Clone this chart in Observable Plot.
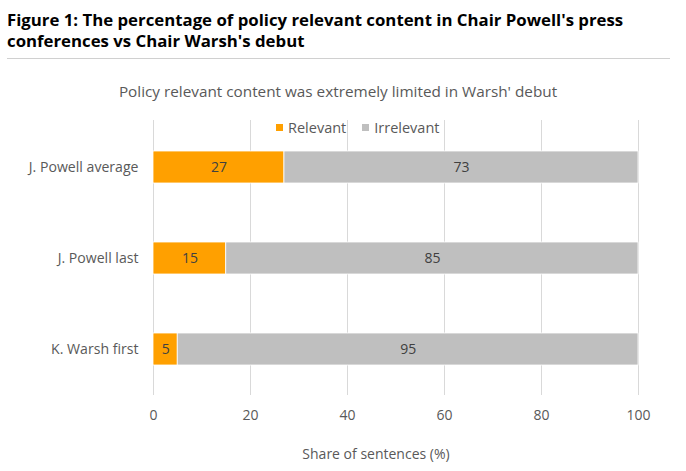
<!DOCTYPE html>
<html>
<head>
<meta charset="utf-8">
<script src="https://cdn.jsdelivr.net/npm/d3@7"></script>
<script src="https://cdn.jsdelivr.net/npm/@observablehq/plot@0.6"></script>
<style>
  html, body { margin: 0; padding: 0; background: #fff; }
  body { width: 686px; height: 471px; position: relative; overflow: hidden; font-family: "Open Sans", sans-serif; }
  #title { position: absolute; left: 7px; top: 9px; font-weight: bold; font-size: 16.8px; line-height: 21px; color: #000; white-space: nowrap; }
  #rule { position: absolute; left: 7px; top: 58px; width: 663px; height: 1px; background: #d0d0d0; }
  #subtitle { position: absolute; left: 0; width: 676px; top: 81px; text-align: center; font-size: 15.3px; color: #595959; white-space: nowrap; }
  #chart { position: absolute; left: 0; top: 100px; }
  #legend { position: absolute; top: 118px; left: 276px; display: flex; align-items: center; font-size: 14.5px; color: #595959; }
  #legend .item { display: flex; align-items: center; margin-right: 16px; }
  #legend .sw { width: 7px; height: 7px; margin-right: 5px; }
</style>
</head>
<body>
<div id="title">Figure 1: The percentage of policy relevant content in Chair Powell's press<br>conferences vs Chair Warsh's debut</div>
<div id="rule"></div>
<div id="subtitle">Policy relevant content was extremely limited in Warsh' debut</div>
<div id="chart"></div>
<div id="legend"></div>
<script>
const categories = ["J. Powell average", "J. Powell last", "K. Warsh first"];
const series = ["Relevant", "Irrelevant"];
const colors = ["#FFA000", "#BFBFBF"];
const relevant = [27, 15, 5];
const irrelevant = [73, 85, 95];
const xTicks = [0, 20, 40, 60, 80, 100];
const xLabel = "Share of sentences (%)";

const data = [];
categories.forEach((c, i) => {
  data.push({name: c, series: "Relevant", value: relevant[i]});
  data.push({name: c, series: "Irrelevant", value: irrelevant[i]});
});

const chart = Plot.plot({
  width: 686,
  height: 371,
  marginTop: 20,
  marginBottom: 76,
  marginLeft: 153,
  marginRight: 48,
  style: {fontFamily: "Open Sans, sans-serif", fontSize: "13px", color: "#595959", background: "transparent"},
  x: {domain: [0, 100], ticks: xTicks, tickSize: 0, label: null},
  y: {domain: categories, paddingInner: 0.65, paddingOuter: 0.325, tickSize: 0, label: null},
  color: {domain: series, range: colors},
  marks: [
    Plot.gridX(xTicks, {stroke: "#d9d9d9", strokeOpacity: 1, strokeWidth: 1}),
    Plot.barX(data, Plot.stackX({x: "value", y: "name", fill: "series", order: series, stroke: "#fff", strokeWidth: 0.8})),
    Plot.text(data, Plot.stackX({x: "value", y: "name", z: "series", order: series, text: d => String(d.value), fill: "#404040", fontSize: 14})),
    Plot.axisX({ticks: xTicks, tickSize: 0, tickPadding: 15, label: null, fill: "#595959", fontSize: 14}),
    Plot.axisY({tickSize: 0, tickPadding: 15, label: null, fill: "#595959", fontSize: 14.1}),
    Plot.text([xLabel], {text: d => d, frameAnchor: "bottom", dy: 63, dx: -20, fill: "#595959", fontSize: 14})
  ]
});
document.getElementById("chart").appendChild(chart);

const legend = document.getElementById("legend");
series.forEach((s, i) => {
  const item = document.createElement("div");
  item.className = "item";
  const sw = document.createElement("span");
  sw.className = "sw";
  sw.style.background = colors[i];
  const t = document.createElement("span");
  t.textContent = s;
  item.appendChild(sw);
  item.appendChild(t);
  legend.appendChild(item);
});
</script>
</body>
</html>
